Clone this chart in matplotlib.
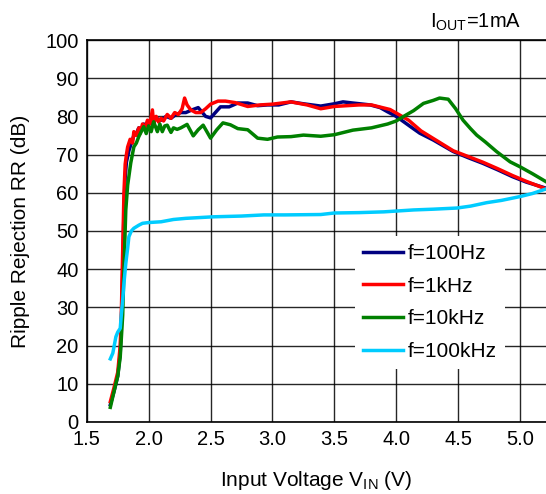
import matplotlib
matplotlib.use("Agg")
import matplotlib.pyplot as plt

plt.rcParams['font.family'] = ['Liberation Sans', 'DejaVu Sans']
plt.rcParams['mathtext.fontset'] = 'custom'
plt.rcParams['mathtext.rm'] = 'Liberation Sans'

# f=100Hz
x_100hz = [1.69, 1.72, 1.75, 1.77, 1.78, 1.79, 1.80, 1.81, 1.82, 1.84, 1.86, 1.88, 1.90, 1.92,
           1.94, 1.96, 1.98, 2.00, 2.03, 2.06, 2.10, 2.14, 2.18, 2.22, 2.26, 2.30, 2.35, 2.40,
           2.46, 2.50, 2.58, 2.65, 2.72, 2.80, 2.88, 2.96, 3.05, 3.15, 3.25, 3.39, 3.50, 3.57,
           3.65, 3.79, 3.87, 3.93, 4.00, 4.06, 4.12, 4.19, 4.30, 4.46, 4.58, 4.70, 4.82, 4.94,
           5.05, 5.21]
y_100hz = [4.5, 8, 12, 18, 26, 40, 55, 64, 68, 71, 73, 75, 75.5, 77,
           76.5, 78, 77.5, 78.5, 78, 79.5, 79, 80, 79.5, 80.5, 81, 81, 81.7, 82.3,
           80, 79.6, 82.5, 82.5, 83.5, 83.5, 82.8, 83, 83, 83.8, 83.3, 82.7, 83.3, 83.8,
           83.5, 83, 82.3, 81.2, 80, 78.6, 77.2, 75.6, 73.8, 70.8, 69.2, 67.7, 66, 64.2,
           62.8, 61.2]

# f=1kHz
x_1khz = [1.69, 1.72, 1.75, 1.77, 1.78, 1.79, 1.80, 1.81, 1.82, 1.83, 1.85, 1.87, 1.88, 1.90,
          1.92, 1.93, 1.95, 1.97, 1.99, 2.01, 2.03, 2.04, 2.06, 2.08, 2.10, 2.12, 2.15, 2.18,
          2.21, 2.24, 2.27, 2.29, 2.31, 2.34, 2.38, 2.42, 2.46, 2.50, 2.56, 2.62, 2.70, 2.80,
          2.90, 3.00, 3.15, 3.28, 3.39, 3.50, 3.60, 3.70, 3.80, 3.90, 3.95, 4.02, 4.10, 4.20,
          4.30, 4.46, 4.58, 4.70, 4.82, 4.94, 5.05, 5.21]
y_1khz = [5.3, 9, 13, 20, 30, 45, 60, 67.5, 70, 72, 74, 73, 76, 75,
          77, 75.5, 78, 77, 79, 78, 81.7, 78, 80, 78.5, 79.5, 78.8, 80.5, 79.5,
          81, 80.5, 82, 84.8, 83, 81.7, 81, 81, 82, 83.2, 84, 84, 83.6, 82.6,
          83, 83.2, 83.8, 83, 82, 82.6, 82.8, 83, 83, 82.2, 81.8, 80.5, 79, 76.2,
          74.2, 71, 69.5, 68, 66.3, 64.5, 63, 61]

# f=10kHz
x_10khz = [1.69, 1.72, 1.75, 1.77, 1.79, 1.80, 1.815, 1.83, 1.855, 1.88, 1.90, 1.92, 1.94, 1.96,
           1.98, 2.00, 2.02, 2.04, 2.07, 2.09, 2.11, 2.13, 2.15, 2.18, 2.20, 2.23, 2.26, 2.31,
           2.36, 2.40, 2.44, 2.50, 2.55, 2.60, 2.66, 2.72, 2.80, 2.88, 2.96, 3.04, 3.15, 3.25,
           3.39, 3.50, 3.65, 3.80, 3.93, 4.00, 4.06, 4.14, 4.22, 4.30, 4.35, 4.42, 4.48, 4.54,
           4.60, 4.65, 4.72, 4.81, 4.92, 5.00, 5.10, 5.21]
y_10khz = [3.8, 8, 12, 17, 28, 40, 55.5, 62, 67.8, 72, 73, 74.7, 76, 77.3,
           75.5, 77.5, 76, 78.6, 76, 78, 76, 77.5, 77.7, 75.8, 77, 76.6, 77, 77.9,
           74.9, 76.5, 77.7, 74.3, 76.5, 78.3, 77.8, 76.8, 76.5, 74.3, 74, 74.6, 74.7, 75.1,
           74.8, 75.2, 76.4, 77, 78, 78.8, 80, 81.5, 83.4, 84.2, 84.8, 84.5, 82, 79,
           76.8, 75.1, 73.3, 70.8, 68.1, 66.8, 65, 62.9]

# f=100kHz
x_100khz = [1.69, 1.71, 1.72, 1.735, 1.75, 1.77, 1.78, 1.79, 1.80, 1.815, 1.83, 1.84, 1.86,
            1.88, 1.92, 1.95, 2.0, 2.1, 2.2, 2.3, 2.52, 2.75, 2.93, 3.1, 3.39, 3.5, 3.7, 3.9,
            4.14, 4.3, 4.49, 4.6, 4.73, 4.85, 5.0, 5.1, 5.21]
y_100khz = [16.5, 18, 19.7, 22.3, 23.5, 24.5, 28.5, 32, 36.3, 41.5, 45.5, 48.5, 50,
            50.7, 51.5, 52, 52.2, 52.4, 53, 53.3, 53.7, 53.9, 54.2, 54.2, 54.3, 54.7, 54.8, 55,
            55.5, 55.7, 56, 56.5, 57.4, 58, 59, 59.8, 61]

fig = plt.figure(figsize=(5.46, 4.94), dpi=100)
ax = fig.add_axes([0.159, 0.146, 0.841, 0.773])

lw = 2.5
ax.plot(x_100hz, y_100hz, color='#000080', lw=lw, label='f=100Hz', zorder=3)
ax.plot(x_1khz, y_1khz, color='#FF0000', lw=lw, label='f=1kHz', zorder=3)
ax.plot(x_10khz, y_10khz, color='#008000', lw=lw, label='f=10kHz', zorder=3)
ax.plot(x_100khz, y_100khz, color='#00CCFF', lw=lw, label='f=100kHz', zorder=3)

ax.set_xlim(1.5, 5.21)
ax.set_ylim(0, 100)
ax.set_xticks([1.5, 2.0, 2.5, 3.0, 3.5, 4.0, 4.5, 5.0])
ax.set_xticklabels(['1.5', '2.0', '2.5', '3.0', '3.5', '4.0', '4.5', '5.0'])
ax.set_yticks(range(0, 101, 10))
ax.grid(True, color='black', lw=1.0, alpha=0.85)
ax.tick_params(labelsize=14.5, length=0, pad=6)
ax.spines['right'].set_visible(False)
for s in ['left', 'top', 'bottom']:
    ax.spines[s].set_linewidth(1.2)

ax.set_xlabel('Input Voltage V$_{\\mathregular{IN}}$ (V)', fontsize=15, labelpad=14)
ax.set_ylabel('Ripple Rejection RR (dB)', fontsize=15, labelpad=11)

fig.text(0.955, 0.955, 'I$_{\\mathregular{OUT}}$=1mA', fontsize=14.5, ha='right', va='center')

leg = ax.legend(loc='upper left', bbox_to_anchor=(0.584, 0.487), fontsize=15,
                frameon=True, fancybox=False, framealpha=1, edgecolor='none',
                handlelength=1.9, handletextpad=0.25, labelspacing=0.65,
                borderpad=0.4, borderaxespad=0)
leg.set_zorder(5)

fig.savefig('out.png', dpi=100)
